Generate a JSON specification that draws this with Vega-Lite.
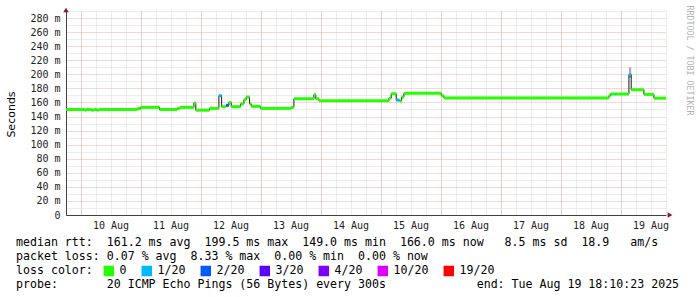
{
  "$schema": "https://vega.github.io/schema/vega-lite/v6.json",
  "width": 600,
  "height": 204,
  "autosize": "none",
  "padding": {"left": 66, "top": 11, "right": 31, "bottom": 82},
  "background": "#ffffff",
  "config": {"view": {"stroke": null}},
  "title": {
    "text": [
      "median rtt:\u00a0\u00a0161.2 ms avg\u00a0\u00a0199.5 ms max\u00a0\u00a0149.0 ms min\u00a0\u00a0166.0 ms now\u00a0\u00a0\u00a08.5 ms sd\u00a0\u00a018.9\u00a0\u00a0\u00a0am/s",
      "packet loss: 0.07 % avg\u00a0\u00a08.33 % max\u00a0\u00a00.00 % min\u00a0\u00a00.00 % now",
      "loss color:",
      "probe:\u00a0\u00a0\u00a0\u00a0\u00a0\u00a0\u00a020 ICMP Echo Pings (56 Bytes) every 300s\u00a0\u00a0\u00a0\u00a0\u00a0\u00a0\u00a0\u00a0\u00a0\u00a0\u00a0\u00a0\u00a0end: Tue Aug 19 18:10:23 2025"
    ],
    "orient": "bottom",
    "anchor": "start",
    "frame": "group",
    "dx": -50,
    "offset": -47,
    "font": "DejaVu Sans Mono",
    "fontSize": 11.6,
    "fontWeight": "normal",
    "color": "#000000",
    "lineHeight": 14
  },
  "datasets": {
    "median": [
      {"start": "2025-08-09T18:10:00Z", "end": "2025-08-10T01:45:00Z", "median": 150, "loss": "0"},
      {"start": "2025-08-10T01:45:00Z", "end": "2025-08-10T02:15:00Z", "median": 149, "loss": "0"},
      {"start": "2025-08-10T02:15:00Z", "end": "2025-08-10T04:25:00Z", "median": 150, "loss": "0"},
      {"start": "2025-08-10T04:25:00Z", "end": "2025-08-10T05:20:00Z", "median": 149, "loss": "0"},
      {"start": "2025-08-10T05:20:00Z", "end": "2025-08-10T06:25:00Z", "median": 150, "loss": "0"},
      {"start": "2025-08-10T06:25:00Z", "end": "2025-08-10T07:20:00Z", "median": 149, "loss": "0"},
      {"start": "2025-08-10T07:20:00Z", "end": "2025-08-10T22:40:00Z", "median": 150, "loss": "0"},
      {"start": "2025-08-10T22:40:00Z", "end": "2025-08-11T00:00:00Z", "median": 151, "loss": "0"},
      {"start": "2025-08-11T00:00:00Z", "end": "2025-08-11T07:35:00Z", "median": 153, "loss": "0"},
      {"start": "2025-08-11T07:35:00Z", "end": "2025-08-11T14:40:00Z", "median": 150, "loss": "0"},
      {"start": "2025-08-11T14:40:00Z", "end": "2025-08-11T15:45:00Z", "median": 151.5, "loss": "0"},
      {"start": "2025-08-11T15:45:00Z", "end": "2025-08-11T21:20:00Z", "median": 153, "loss": "0"},
      {"start": "2025-08-11T21:20:00Z", "end": "2025-08-11T22:05:00Z", "median": 159, "loss": "0"},
      {"start": "2025-08-11T22:05:00Z", "end": "2025-08-12T03:35:00Z", "median": 149, "loss": "0"},
      {"start": "2025-08-12T03:35:00Z", "end": "2025-08-12T07:20:00Z", "median": 151.5, "loss": "0"},
      {"start": "2025-08-12T07:20:00Z", "end": "2025-08-12T08:25:00Z", "median": 169.6, "loss": "1/20"},
      {"start": "2025-08-12T08:25:00Z", "end": "2025-08-12T10:15:00Z", "median": 154, "loss": "0"},
      {"start": "2025-08-12T10:15:00Z", "end": "2025-08-12T11:20:00Z", "median": 156, "loss": "2/20"},
      {"start": "2025-08-12T11:20:00Z", "end": "2025-08-12T12:15:00Z", "median": 160, "loss": "0"},
      {"start": "2025-08-12T12:15:00Z", "end": "2025-08-12T16:00:00Z", "median": 154, "loss": "0"},
      {"start": "2025-08-12T16:00:00Z", "end": "2025-08-12T17:20:00Z", "median": 158, "loss": "0"},
      {"start": "2025-08-12T17:20:00Z", "end": "2025-08-12T18:15:00Z", "median": 164, "loss": "0"},
      {"start": "2025-08-12T18:15:00Z", "end": "2025-08-12T19:35:00Z", "median": 167.7, "loss": "0"},
      {"start": "2025-08-12T19:35:00Z", "end": "2025-08-12T20:15:00Z", "median": 158, "loss": "0"},
      {"start": "2025-08-12T20:15:00Z", "end": "2025-08-13T00:00:00Z", "median": 154.4, "loss": "0"},
      {"start": "2025-08-13T00:00:00Z", "end": "2025-08-13T12:15:00Z", "median": 151.5, "loss": "0"},
      {"start": "2025-08-13T12:15:00Z", "end": "2025-08-13T13:20:00Z", "median": 153, "loss": "0"},
      {"start": "2025-08-13T13:20:00Z", "end": "2025-08-13T21:20:00Z", "median": 165.3, "loss": "0"},
      {"start": "2025-08-13T21:20:00Z", "end": "2025-08-13T22:05:00Z", "median": 171, "loss": "0"},
      {"start": "2025-08-13T22:05:00Z", "end": "2025-08-13T23:20:00Z", "median": 165.3, "loss": "0"},
      {"start": "2025-08-13T23:20:00Z", "end": "2025-08-15T03:20:00Z", "median": 162.4, "loss": "0"},
      {"start": "2025-08-15T03:20:00Z", "end": "2025-08-15T04:15:00Z", "median": 166, "loss": "0"},
      {"start": "2025-08-15T04:15:00Z", "end": "2025-08-15T06:15:00Z", "median": 172.4, "loss": "0"},
      {"start": "2025-08-15T06:15:00Z", "end": "2025-08-15T07:35:00Z", "median": 163.4, "loss": "1/20"},
      {"start": "2025-08-15T07:35:00Z", "end": "2025-08-15T08:25:00Z", "median": 162, "loss": "0"},
      {"start": "2025-08-15T08:25:00Z", "end": "2025-08-15T09:20:00Z", "median": 167.7, "loss": "0"},
      {"start": "2025-08-15T09:20:00Z", "end": "2025-08-16T00:15:00Z", "median": 172.9, "loss": "0"},
      {"start": "2025-08-16T00:15:00Z", "end": "2025-08-16T01:20:00Z", "median": 169.6, "loss": "0"},
      {"start": "2025-08-16T01:20:00Z", "end": "2025-08-18T19:20:00Z", "median": 166.3, "loss": "0"},
      {"start": "2025-08-18T19:20:00Z", "end": "2025-08-18T20:00:00Z", "median": 169.6, "loss": "0"},
      {"start": "2025-08-18T20:00:00Z", "end": "2025-08-18T21:45:00Z", "median": 172, "loss": "0"},
      {"start": "2025-08-18T21:45:00Z", "end": "2025-08-18T22:05:00Z", "median": 172, "loss": "1/20"},
      {"start": "2025-08-18T22:05:00Z", "end": "2025-08-19T03:20:00Z", "median": 172, "loss": "0"},
      {"start": "2025-08-19T03:20:00Z", "end": "2025-08-19T04:15:00Z", "median": 199.5, "loss": "1/20"},
      {"start": "2025-08-19T04:15:00Z", "end": "2025-08-19T09:20:00Z", "median": 178.1, "loss": "0"},
      {"start": "2025-08-19T09:20:00Z", "end": "2025-08-19T13:20:00Z", "median": 171.4, "loss": "0"},
      {"start": "2025-08-19T13:20:00Z", "end": "2025-08-19T18:10:00Z", "median": 166.0, "loss": "0"}
    ],
    "smoke": [
      {"start": "2025-08-10T22:40:00Z", "end": "2025-08-11T00:00:00Z", "lo": 150, "hi": 153},
      {"start": "2025-08-19T03:20:00Z", "end": "2025-08-19T04:15:00Z", "lo": 195, "hi": 210}
    ],
    "arrows": [
      {"t": "2025-08-09T18:10:00Z", "v": 290, "dir": "up"},
      {"t": "2025-08-19T18:10:00Z", "v": 0, "dir": "right"}
    ]
  },
  "layer": [
    {
      "data": {"name": "smoke"},
      "mark": {"type": "rect", "color": "#a8a8a8"},
      "encoding": {
        "x": {
          "field": "start", "type": "temporal",
          "scale": {"type": "utc", "domain": [{"year": 2025, "month": 8, "date": 9, "hours": 18, "minutes": 10, "utc": true}, {"year": 2025, "month": 8, "date": 19, "hours": 18, "minutes": 10, "utc": true}]},
          "axis": {"orient": "bottom", "grid": true, "gridColor": "#d8d8d8", "gridDash": [1, 1], "tickCount": 40, "labels": false, "ticks": false, "domain": false, "title": null}
        },
        "x2": {"field": "end"},
        "y": {
          "field": "lo", "type": "quantitative",
          "scale": {"domain": [0, 290], "nice": false, "zero": true},
          "axis": {"orient": "left", "values": [10, 30, 50, 70, 90, 110, 130, 150, 170, 190, 210, 230, 250, 270, 290], "grid": true, "gridColor": "#d8d8d8", "gridDash": [1, 1], "labels": false, "ticks": false, "domain": false, "title": null}
        },
        "y2": {"field": "hi"}
      }
    },
    {
      "data": {"name": "median"},
      "mark": {"type": "line", "interpolate": "step-after", "color": "#1a1a1a", "strokeWidth": 1},
      "encoding": {
        "x": {
          "field": "start", "type": "temporal",
          "scale": {"type": "utc", "domain": [{"year": 2025, "month": 8, "date": 9, "hours": 18, "minutes": 10, "utc": true}, {"year": 2025, "month": 8, "date": 19, "hours": 18, "minutes": 10, "utc": true}]},
          "axis": {
            "orient": "bottom", "grid": true, "gridColor": "#e8b0b0", "gridDash": [1, 1], "labels": false, "ticks": false, "domain": false, "title": null, "tickCount": 10
          }
        },
        "y": {
          "field": "median", "type": "quantitative",
          "scale": {"domain": [0, 290], "nice": false, "zero": true},
          "axis": {
            "orient": "left", "values": [0, 20, 40, 60, 80, 100, 120, 140, 160, 180, 200, 220, 240, 260, 280],
            "grid": true, "gridColor": "#e8b0b0", "gridDash": [1, 1],
            "ticks": false, "domain": true, "domainColor": "#404040",
            "labelExpr": "datum.value == 0 ? '0' : datum.value + ' m'",
            "labelFont": "DejaVu Sans Mono", "labelFontSize": 10, "labelColor": "#222222", "labelPadding": 6,
            "title": "Seconds", "titleFont": "DejaVu Sans", "titleFontSize": 11, "titleFontWeight": "normal", "titleColor": "#000000",
            "titleAngle": 270, "titleX": -55, "titleY": 103, "titleAlign": "center", "titleBaseline": "middle"
          }
        }
      }
    },
    {
      "data": {"name": "median"},
      "mark": {"type": "rule", "strokeWidth": 3},
      "encoding": {
        "x": {
          "field": "start", "type": "temporal",
          "scale": {"type": "utc", "domain": [{"year": 2025, "month": 8, "date": 9, "hours": 18, "minutes": 10, "utc": true}, {"year": 2025, "month": 8, "date": 19, "hours": 18, "minutes": 10, "utc": true}]},
          "axis": {
            "orient": "bottom", "grid": false, "ticks": false, "domain": true, "domainColor": "#404040", "title": null,
            "tickCount": 10, "format": "%d %b", "labelOffset": 30, "labelAlign": "center", "labelFlush": false, "labelOverlap": false, "labelBound": false,
            "labelFont": "DejaVu Sans Mono", "labelFontSize": 10, "labelColor": "#222222", "labelPadding": 5
          }
        },
        "x2": {"field": "end"},
        "y": {
          "field": "median", "type": "quantitative",
          "scale": {"domain": [0, 290], "nice": false, "zero": true},
          "axis": {
            "orient": "right", "grid": false, "labels": false, "ticks": false, "domain": false,
            "title": "RRDTOOL / TOBI OETIKER", "titleFont": "DejaVu Sans Mono", "titleFontSize": 8.3, "titleFontWeight": "normal", "titleColor": "#b4b4b4",
            "titleAngle": 90, "titleX": 22, "titleY": 49, "titleAlign": "center", "titleBaseline": "middle"
          }
        },
        "color": {
          "field": "loss", "type": "nominal",
          "scale": {"domain": ["0", "1/20", "2/20", "3/20", "4/20", "10/20", "19/20"], "range": ["#26ff00", "#00b8ff", "#0059ff", "#5e00ff", "#7e00ff", "#dd00ff", "#ff0000"]},
          "legend": {
            "orient": "none", "legendX": 37, "legendY": 254, "direction": "horizontal", "title": null,
            "symbolType": "square", "symbolSize": 30, "symbolStrokeWidth": 5,
            "labelFont": "DejaVu Sans Mono", "labelFontSize": 11.6, "labelColor": "#000000", "labelOffset": 5, "columnPadding": 7, "padding": 0
          }
        }
      }
    },
    {
      "data": {"name": "arrows"},
      "transform": [{"filter": "datum.dir == 'up'"}],
      "mark": {"type": "point", "shape": "triangle-up", "filled": true, "size": 30, "color": "#8b1a1a", "opacity": 1, "yOffset": -1},
      "encoding": {
        "x": {"field": "t", "type": "temporal", "axis": null},
        "y": {"field": "v", "type": "quantitative", "axis": null}
      }
    },
    {
      "data": {"name": "arrows"},
      "transform": [{"filter": "datum.dir == 'right'"}],
      "mark": {"type": "point", "shape": "triangle-right", "filled": true, "size": 30, "color": "#8b1a1a", "opacity": 1, "xOffset": 4},
      "encoding": {
        "x": {"field": "t", "type": "temporal", "axis": null},
        "y": {"field": "v", "type": "quantitative", "axis": null}
      }
    }
  ],
  "resolve": {"axis": {"x": "independent", "y": "independent"}}
}
